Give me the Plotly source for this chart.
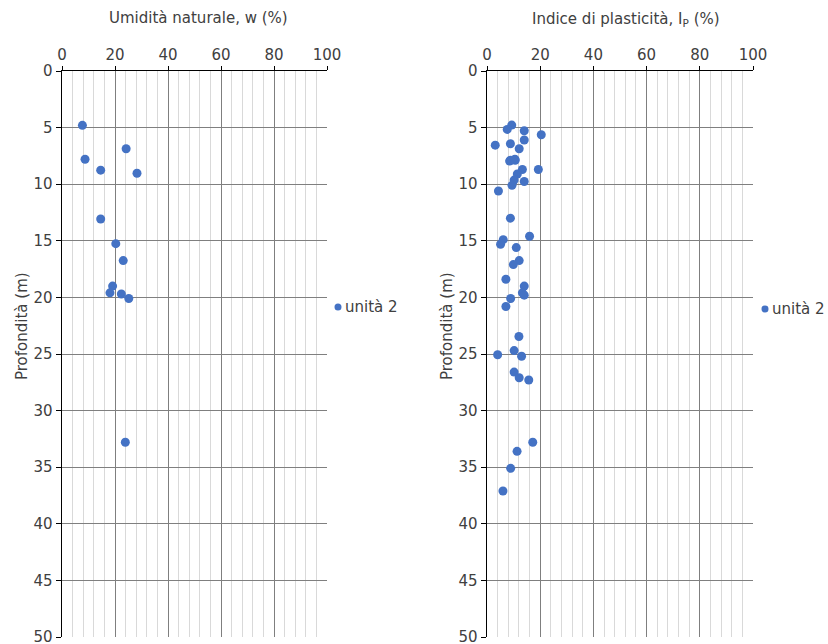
import plotly.graph_objects as go

# Data: left panel - natural moisture content w (%) vs depth (m)
w_values = [7.7, 24.2, 8.7, 14.6, 28.3, 14.6, 20.3, 23.1, 19.1, 18.1, 22.4, 25.2, 23.9]
w_depth = [4.8, 6.87, 7.8, 8.76, 9.03, 13.07, 15.25, 16.75, 19.0, 19.6, 19.7, 20.1, 32.8]

# Right panel - plasticity index Ip (%) vs depth (m)
ip_values = [9.3, 7.6, 14.0, 20.4, 3.1, 8.8, 14.0, 12.1, 8.8, 10.6, 8.5, 10.5,
             13.3, 19.3, 11.4, 10.2, 14.0, 9.4, 4.3, 8.8, 16.0, 6.1, 5.1, 11.0,
             12.1, 9.9, 7.1, 14.0, 13.3, 14.0, 8.9, 7.1,
             12.0, 4.0, 10.2, 13.0, 10.2, 12.1, 15.7, 17.2, 11.3, 8.9, 6.0]
ip_depth = [4.78, 5.16, 5.28, 5.63, 6.55, 6.43, 6.1, 6.87, 7.88, 7.88, 7.96, 7.8,
            8.7, 8.7, 9.1, 9.64, 9.76, 10.1, 10.6, 13.0, 14.6, 14.9, 15.3, 15.6,
            16.75, 17.1, 18.4, 19.0, 19.6, 19.8, 20.1, 20.8,
            23.45, 25.07, 24.7, 25.2, 26.6, 27.1, 27.3, 32.8, 33.6, 35.1, 37.1]

series_name = "unità 2"
x_ticks = [0, 20, 40, 60, 80, 100]
y_ticks = [0, 5, 10, 15, 20, 25, 30, 35, 40, 45, 50]

W, H = 828, 644
FONT = "DejaVu Sans"
TXT = "#404040"
BLUE = "#4472C4"

fig = go.Figure()
fig.add_trace(go.Scatter(x=w_values, y=w_depth, mode="markers", name=series_name,
                         marker=dict(color=BLUE, size=9), xaxis="x", yaxis="y",
                         showlegend=False))
fig.add_trace(go.Scatter(x=ip_values, y=ip_depth, mode="markers", name=series_name,
                         marker=dict(color=BLUE, size=9), xaxis="x2", yaxis="y2",
                         showlegend=False))

def xaxis(domain, anchor):
    return dict(domain=domain, anchor=anchor, side="top", range=[0, 100],
                tickvals=x_ticks, ticktext=[str(v) for v in x_ticks],
                showgrid=True, gridcolor="#7f7f7f", gridwidth=1,
                minor=dict(dtick=4, tick0=0, showgrid=True, gridcolor="#d9d9d9", gridwidth=1),
                showline=True, linecolor="#000000", linewidth=1.5,
                ticks="outside", ticklen=4, tickcolor="#000000", zeroline=False,
                automargin=False, ticklabeloverflow="allow",
                tickfont=dict(family=FONT, size=15, color=TXT), fixedrange=True)

def yaxis(domain, anchor):
    return dict(domain=domain, anchor=anchor, range=[50, 0],
                tickvals=y_ticks, ticktext=[str(v) for v in y_ticks],
                showgrid=True, gridcolor="#7f7f7f", gridwidth=1,
                showline=True, linecolor="#000000", linewidth=1.5,
                ticks="outside", ticklen=5, tickcolor="#000000", zeroline=False,
                automargin=False, ticklabeloverflow="allow",
                tickfont=dict(family=FONT, size=15, color=TXT), fixedrange=True)

def px_x(p):
    return p / W

def px_y(p):
    return 1 - p / H

yd = [px_y(637), px_y(71)]

# Manual legends (legend symbol + label) placed next to each panel
legend_specs = [(338, 307), (765, 309)]
shapes = []
legend_annots = []
for lx, ly in legend_specs:
    shapes.append(dict(type="circle", xref="paper", yref="paper",
                       x0=px_x(lx - 3.5), x1=px_x(lx + 3.5), y0=px_y(ly + 3.5), y1=px_y(ly - 3.5),
                       fillcolor=BLUE, line=dict(color=BLUE, width=0)))
    legend_annots.append(dict(text=series_name, x=px_x(lx + 5), y=px_y(ly), xref="paper", yref="paper",
                              showarrow=False, font=dict(family=FONT, size=15, color=TXT),
                              xanchor="left", yanchor="middle"))

fig.update_layout(
    width=W, height=H,
    margin=dict(l=0, r=0, t=0, b=0),
    paper_bgcolor="white", plot_bgcolor="white",
    xaxis=xaxis([px_x(62), px_x(327)], "y"),
    yaxis=yaxis(yd, "x"),
    xaxis2=xaxis([px_x(487), px_x(753)], "y2"),
    yaxis2=yaxis(yd, "x2"),
    showlegend=False,
    shapes=shapes,
    annotations=[
        dict(text="Umidità naturale, w (%)", x=px_x(198), y=px_y(18), xref="paper", yref="paper",
             showarrow=False, font=dict(family=FONT, size=15, color=TXT), xanchor="center", yanchor="middle"),
        dict(text="Indice di plasticità, I<sub>P</sub> (%)", x=px_x(626), y=px_y(20), xref="paper", yref="paper",
             showarrow=False, font=dict(family=FONT, size=15, color=TXT), xanchor="center", yanchor="middle"),
        dict(text="Profondità (m)", x=px_x(22), y=px_y(326), xref="paper", yref="paper", textangle=-90,
             showarrow=False, font=dict(family=FONT, size=15, color=TXT), xanchor="center", yanchor="middle"),
        dict(text="Profondità (m)", x=px_x(447), y=px_y(326), xref="paper", yref="paper", textangle=-90,
             showarrow=False, font=dict(family=FONT, size=15, color=TXT), xanchor="center", yanchor="middle"),
    ] + legend_annots,
)

fig.write_html("out.html",
               config={"displayModeBar": False, "staticPlot": True},
               post_script="document.body.style.margin='0';document.body.style.overflow='hidden';")
